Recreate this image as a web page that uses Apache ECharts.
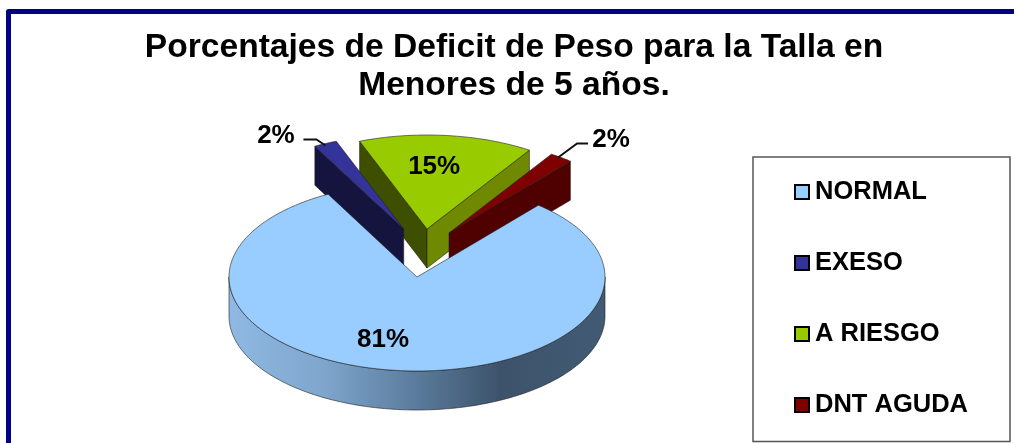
<!DOCTYPE html>
<html>
<head>
<meta charset="utf-8">
<style>html,body{margin:0;padding:0;background:#fff}#c{width:1014px;height:443px}</style>
<script src="https://cdn.jsdelivr.net/npm/echarts@6/dist/echarts.min.js"></script>
</head>
<body>
<div id="c"></div>
<script>
const categories = ['NORMAL', 'EXESO', 'A RIESGO', 'DNT AGUDA'];
const values = [81, 2, 15, 2];
const titleText = 'Porcentajes de Deficit de Peso para la Talla en\nMenores de 5 años.';

// appearance
const topColors = ['#99ccff', '#333399', '#99cc00', '#7f0000'];
const leftWall = [null, '#14143f', '#3f4f00', null];
const rightWall = [null, null, '#6f8a00', '#4f0000'];
const drawOrder = [4, 3, 2, 3];
const explode = [[0, 0], [-13.3, -48], [10, -48], [32, -44]];
const labelAt = [
  { r: 0.66, dx: -21, dy: 1.5 }, { r: 1, dx: -49.5, dy: -8 },
  { r: 0.67, dx: -6, dy: 0.5 }, { r: 1, dx: 50, dy: -18 }
];
const leaders = [null, [[0, 2], [-9, -4], [-22, -4]], null, [[-3, 0], [16, -14], [27, -14]]];
const cx = 417, cy = 277, rx = 188, ry = 94, depth = 39, startAngle = 40.2;
const FONT = '"Liberation Sans", Arial, sans-serif';

const total = values.reduce((a, b) => a + b, 0);
const angles = [];
values.reduce((acc, v) => {
  const span = v / total * 360;
  angles.push([acc, acc + span]);
  return acc + span;
}, startAngle);

const pt = (ox, oy, deg, k = 1) => {
  const t = deg * Math.PI / 180;
  return [ox + k * rx * Math.sin(t), oy - k * ry * Math.cos(t)];
};
const arc = (ox, oy, a0, a1, dy = 0) => {
  const out = [];
  const n = Math.max(2, Math.ceil(Math.abs(a1 - a0)));
  for (let i = 0; i <= n; i++) {
    const p = pt(ox, oy, a0 + (a1 - a0) * i / n);
    out.push([p[0], p[1] + dy]);
  }
  return out;
};
const EDGE = 'rgba(30,30,30,0.75)';
const poly = (points, fill) => ({
  type: 'polygon', shape: { points },
  style: { fill, stroke: EDGE, lineWidth: 0.8 }
});
const wall = (a, b, fill) => poly([a, b, [b[0], b[1] + depth], [a[0], a[1] + depth]], fill);

function renderSlice(i, api) {
  const value = api.value(0);
  const [a0, a1] = angles[i];
  const ox = cx + explode[i][0], oy = cy + explode[i][1];
  const kids = [];
  const apex = [ox, oy];
  if (i === 0) {
    const front = arc(ox, oy, 90, 270);
    const back = arc(ox, oy, 270, 90, depth);
    kids.push(poly(front.concat(back), new echarts.graphic.LinearGradient(0, 0, 1, 0, [
      { offset: 0, color: '#8fb9e3' }, { offset: 0.25, color: '#7fa6cd' },
      { offset: 0.5, color: '#5a7b9c' }, { offset: 0.72, color: '#3c536b' },
      { offset: 1, color: '#425a73' }
    ])));
  }
  if (leftWall[i]) kids.push(wall(pt(ox, oy, a0), apex, leftWall[i]));
  if (rightWall[i]) kids.push(wall(apex, pt(ox, oy, a1), rightWall[i]));
  kids.push(poly([apex].concat(arc(ox, oy, a0, a1)), topColors[i]));
  const mid = (a0 + a1) / 2;
  const anchor = pt(ox, oy, mid, labelAt[i].r);
  if (leaders[i]) {
    const o = pt(ox, oy, mid);
    kids.push({
      type: 'polyline',
      shape: { points: leaders[i].map(d => [o[0] + d[0], o[1] + d[1]]) },
      style: { fill: null, stroke: '#111', lineWidth: 2 }
    });
  }
  kids.push({
    type: 'text', z2: 50,
    x: anchor[0] + labelAt[i].dx, y: anchor[1] + labelAt[i].dy,
    style: {
      text: value + '%', fill: '#000', align: 'center', verticalAlign: 'middle',
      font: 'bold 26px ' + FONT
    }
  });
  return { type: 'group', children: kids };
}

const chart = echarts.init(document.getElementById('c'), null, { renderer: 'canvas' });
chart.setOption({
  animation: false,
  backgroundColor: '#fff',
  title: {
    text: titleText, left: 509, top: 24, textAlign: 'center',
    textStyle: { fontFamily: FONT, fontWeight: 'bold', fontSize: 33.6, lineHeight: 38, color: '#000' }
  },
  legend: {
    orient: 'vertical', left: 753, top: 157, height: 400,
    padding: [22, 42, 23.5, 41],
    backgroundColor: '#fff', borderColor: '#555', borderWidth: 1.5,
    icon: 'rect', itemWidth: 14, itemHeight: 14, itemGap: 45, selectedMode: false,
    itemStyle: { borderColor: '#000', borderWidth: 2 },
    textStyle: { fontFamily: FONT, fontWeight: 'bold', fontSize: 25.5, color: '#000', padding: [0, 0, 0, 1] },
    data: categories
  },
  graphic: [{
    type: 'polyline', silent: true,
    shape: { points: [[8.5, 443], [8.5, 11.5], [1014, 11.5]] },
    style: { fill: null, stroke: '#000080', lineWidth: 5, lineJoin: 'round' }
  }],
  series: categories.map((name, i) => ({
    type: 'custom', name, coordinateSystem: 'none', z: drawOrder[i],
    itemStyle: { color: topColors[i] },
    data: [[values[i]]],
    renderItem: (params, api) => renderSlice(i, api)
  }))
});
</script>
</body>
</html>
